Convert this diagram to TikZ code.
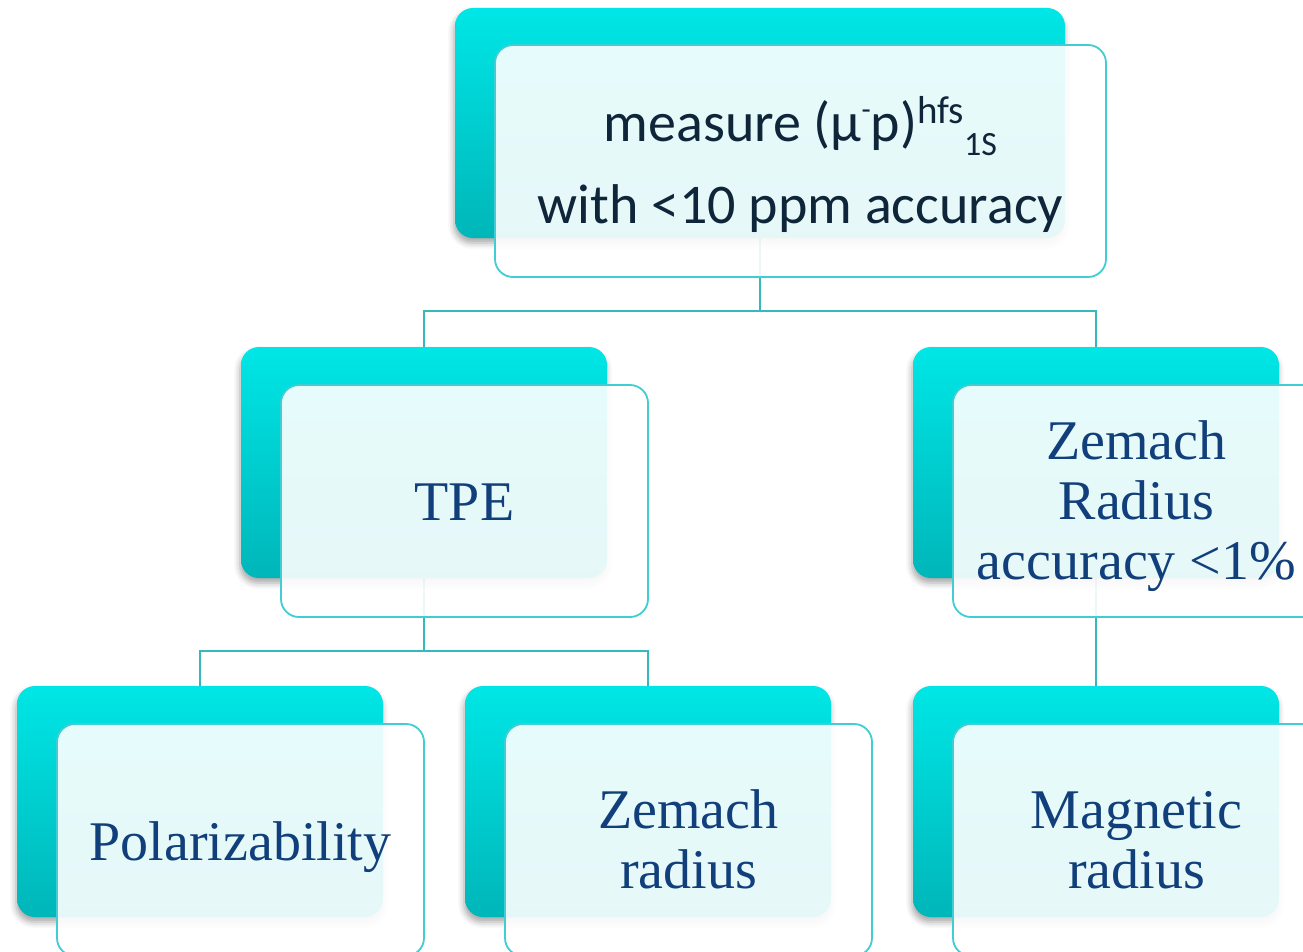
\documentclass[tikz,border=0pt]{standalone}
\usepackage{fontspec}
\setmainfont{Liberation Serif}
\newfontfamily\calib{Carlito}
\usetikzlibrary{shadows.blur}

\definecolor{cyantop}{HTML}{00E6E6}
\definecolor{cyanbot}{HTML}{00B6B9}
\definecolor{edgecyan}{HTML}{40CDD3}
\definecolor{linkcyan}{HTML}{35B9BF}
\definecolor{navytext}{HTML}{113F7B}
\definecolor{darktext}{HTML}{0F2539}

\newcommand\hiup[1]{\raisebox{18pt}{\fontsize{39}{39}\selectfont #1}}
\newcommand\lodown[1]{\raisebox{-14pt}{\fontsize{34}{34}\selectfont #1}}
\newcommand\minussup{\raisebox{22pt}{\fontsize{30}{30}\selectfont -}}
% a block of centred lines, drawn #1 lower while keeping its size
\newcommand\cardlines[2]{\raisebox{#1}[\height][\depth]{\begin{tabular}{@{}c@{}}#2\end{tabular}}}

\tikzset{
  backbox/.style={rectangle, rounded corners=18pt, inner sep=0pt, outer sep=0pt,
    top color=cyantop, bottom color=cyanbot, draw=none,
    minimum width=366pt, minimum height=231pt,
    blur shadow={shadow xshift=-1pt, shadow yshift=-5pt, shadow blur radius=6pt, shadow opacity=35}},
  frontbox/.style={rectangle, rounded corners=18pt, inner sep=0pt, outer sep=0pt,
    fill=white, fill opacity=0.9, text opacity=1, draw=edgecyan, line width=1.8pt,
    minimum width=367pt, minimum height=232pt, align=center, text=navytext,
    font=\fontsize{56}{60}\selectfont},
  conn/.style={draw=linkcyan, line width=1.8pt}
}

\begin{document}
\begin{tikzpicture}[x=1pt, y=-1pt]
\useasboundingbox (0,0) rectangle (1303,952);
\begin{scope}
\clip (0,0) rectangle (1303,952);

% back cards (centres used as connector anchors)
\coordinate (tb) at (760,123);
\coordinate (lb) at (424,462.5);
\coordinate (rb) at (1096,462.5);
\coordinate (pb) at (200,801.5);
\coordinate (zb) at (648,801.5);
\coordinate (mb) at (1096,801.5);
\coordinate (bus1) at (760,311);
\coordinate (bus2) at (424,651);

% connectors run underneath the cards
\draw[conn] (tb) -- (bus1);
\draw[conn] (lb) |- (bus1) -| (rb);
\draw[conn] (lb) -- (bus2);
\draw[conn] (pb) |- (bus2) -| (zb);
\draw[conn] (rb) -- (mb);

% back cards
\node[backbox, minimum width=610pt, minimum height=230pt] (topback) at (tb) {};
\node[backbox] (tpeback) at (lb) {};
\node[backbox] (zemback) at (rb) {};
\node[backbox] (polback) at (pb) {};
\node[backbox] (zrback) at (zb) {};
\node[backbox] (magback) at (mb) {};

% front cards with labels
\node[frontbox, minimum width=611pt, minimum height=232pt, text=darktext,
      font=\calib\fontsize{56}{82}\selectfont] (topfront) at (800.5,161)
  {\cardlines{-5pt}{measure (μ\minussup p)\hiup{hfs}\lodown{1S}\\with <10 ppm accuracy}};
\node[frontbox] (tpefront) at (464.5,501) {\cardlines{-7pt}{TPE}};
\node[frontbox] (zemfront) at (1136.5,501) {\cardlines{-6pt}{Zemach\\Radius\\accuracy <1\%}};
\node[frontbox] (polfront) at (240.5,840) {\cardlines{-8pt}{Polarizability}};
\node[frontbox] (zrfront) at (688.5,840) {\cardlines{-6pt}{Zemach\\radius}};
\node[frontbox] (magfront) at (1136.5,840) {\cardlines{-6pt}{Magnetic\\radius}};
\end{scope}
\end{tikzpicture}
\end{document}
